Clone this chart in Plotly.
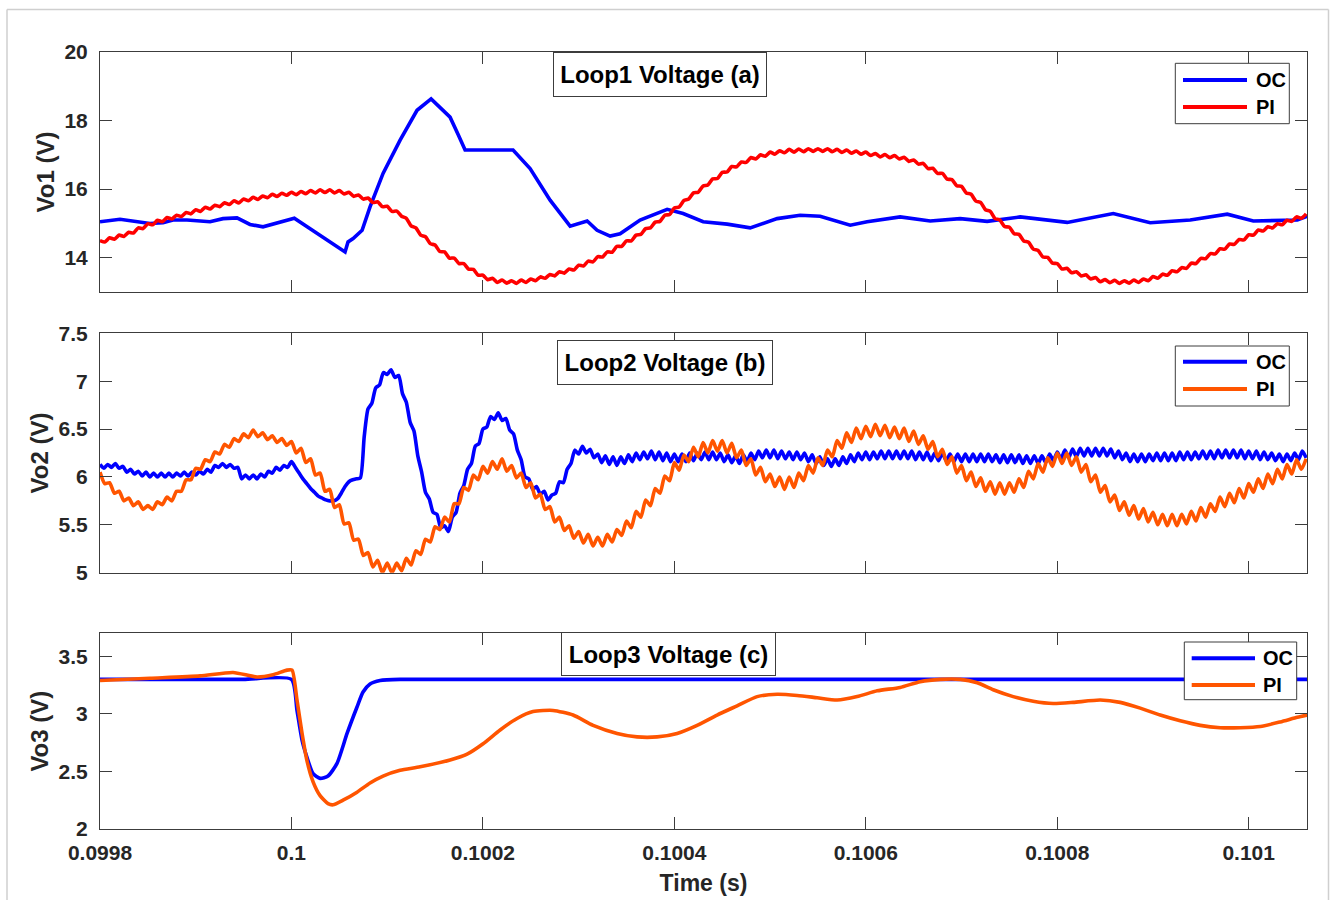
import numpy as np
import plotly.graph_objects as go

# ---------------------------------------------------------------- data
T_START = 0.0998
T_END = 0.1010609

SERIES_NAMES = ["OC", "PI"]
PANEL_TITLES = ["Loop1 Voltage (a)", "Loop2 Voltage (b)", "Loop3 Voltage (c)"]
Y_TITLES = ["Vo1 (V)", "Vo2 (V)", "Vo3 (V)"]
X_TITLE = "Time (s)"

X_TICKS = [0.0998, 0.1, 0.1002, 0.1004, 0.1006, 0.1008, 0.101]
X_TICK_TEXT = ["0.0998", "0.1", "0.1002", "0.1004", "0.1006", "0.1008", "0.101"]
Y1_TICKS = [14, 16, 18, 20]
Y2_TICKS = [5, 5.5, 6, 6.5, 7, 7.5]
Y3_TICKS = [2, 2.5, 3, 3.5]
Y_RANGES = [[13, 20], [5, 7.5], [2, 3.7]]

# Loop 1 output voltage
VO1_OC_T = [0.0998000, 0.0998209, 0.0998522, 0.0998658, 0.0998763, 0.0998909,
            0.0999149, 0.0999285, 0.0999431, 0.0999567, 0.0999703, 0.0999849,
            0.1000030, 0.1000560, 0.1000591, 0.1000644, 0.1000696, 0.1000738,
            0.1000821, 0.1000957, 0.1001135, 0.1001312, 0.1001459, 0.1001657,
            0.1001740, 0.1001814, 0.1002315, 0.1002493, 0.1002702, 0.1002807,
            0.1002911, 0.1003089, 0.1003193, 0.1003329, 0.1003433, 0.1003642,
            0.1003925, 0.1004092, 0.1004301, 0.1004552, 0.1004792, 0.1005074,
            0.1005314, 0.1005523, 0.1005837, 0.1006014, 0.1006359, 0.1006673,
            0.1006986, 0.1007268, 0.1007613, 0.1008104, 0.1008585, 0.1008971,
            0.1009389, 0.1009776, 0.1010048, 0.1010508, 0.1010612]
VO1_OC = [15.05, 15.12, 15.00, 15.02, 15.10, 15.10,
          15.05, 15.14, 15.16, 14.97, 14.90, 15.00,
          15.15, 14.17, 14.46, 14.56, 14.71, 14.80,
          15.48, 16.46, 17.43, 18.30, 18.63, 18.10,
          17.60, 17.14, 17.14, 16.60, 15.68, 15.29,
          14.92, 15.07, 14.80, 14.63, 14.70, 15.10,
          15.41, 15.29, 15.05, 14.98, 14.87, 15.14,
          15.24, 15.21, 14.95, 15.05, 15.19, 15.07,
          15.14, 15.06, 15.19, 15.03, 15.29, 15.02,
          15.10, 15.27, 15.07, 15.10, 15.21]

# Loop 1 PI response, uniform 5 us samples
VO1_PI_STEP = 5e-6
VO1_PI = [
    14.50, 14.46, 14.58, 14.54, 14.66, 14.62, 14.74, 14.72, 14.87, 14.85,
    14.99, 14.96, 15.09, 15.05, 15.17, 15.13, 15.24, 15.20, 15.32, 15.28,
    15.40, 15.35, 15.47, 15.42, 15.53, 15.49, 15.60, 15.55, 15.66, 15.60,
    15.71, 15.66, 15.76, 15.70, 15.80, 15.75, 15.85, 15.79, 15.88, 15.82,
    15.91, 15.84, 15.93, 15.87, 15.96, 15.89, 15.98, 15.90, 15.98, 15.89,
    15.96, 15.86, 15.91, 15.79, 15.83, 15.71, 15.74, 15.61, 15.63, 15.49,
    15.50, 15.35, 15.36, 15.21, 15.15, 14.93, 14.87, 14.66, 14.61, 14.41,
    14.37, 14.18, 14.17, 13.99, 13.99, 13.83, 13.83, 13.67, 13.66, 13.49,
    13.49, 13.36, 13.40, 13.28, 13.35, 13.26, 13.33, 13.25, 13.35, 13.28,
    13.38, 13.33, 13.44, 13.40, 13.51, 13.47, 13.59, 13.55, 13.67, 13.64,
    13.78, 13.76, 13.90, 13.88, 14.03, 14.02, 14.17, 14.16, 14.33, 14.33,
    14.49, 14.49, 14.66, 14.68, 14.85, 14.87, 15.04, 15.06, 15.24, 15.26,
    15.45, 15.48, 15.67, 15.71, 15.89, 15.91, 16.09, 16.12, 16.30, 16.31,
    16.49, 16.50, 16.66, 16.65, 16.79, 16.78, 16.92, 16.88, 17.00, 16.96,
    17.08, 17.02, 17.12, 17.06, 17.16, 17.08, 17.17, 17.09, 17.18, 17.10,
    17.18, 17.10, 17.18, 17.09, 17.16, 17.07, 17.14, 17.05, 17.11, 17.02,
    17.08, 16.98, 17.04, 16.94, 17.01, 16.92, 16.98, 16.88, 16.93, 16.81,
    16.85, 16.73, 16.75, 16.60, 16.61, 16.46, 16.46, 16.29, 16.28, 16.10,
    16.08, 15.89, 15.85, 15.65, 15.61, 15.40, 15.35, 15.14, 15.10, 14.91,
    14.89, 14.70, 14.68, 14.49, 14.45, 14.25, 14.21, 14.02, 14.01, 13.84,
    13.83, 13.67, 13.69, 13.56, 13.59, 13.47, 13.50, 13.38, 13.42, 13.30,
    13.36, 13.27, 13.34, 13.25, 13.33, 13.26, 13.35, 13.28, 13.38, 13.33,
    13.45, 13.40, 13.52, 13.49, 13.62, 13.59, 13.71, 13.69, 13.84, 13.83,
    13.98, 13.97, 14.12, 14.11, 14.26, 14.25, 14.40, 14.39, 14.53, 14.52,
    14.67, 14.66, 14.81, 14.78, 14.90, 14.87, 14.99, 14.96, 15.09, 15.06,
    15.19, 15.15, 15.28,
]

# Loop 2 output voltage, sampled on uniform time grids
VO2_OC_STEP = 4e-6
VO2_OC = [
    6.13, 6.09, 6.13, 6.10, 6.14, 6.09, 6.11, 6.05, 6.08, 6.03,
    6.06, 6.01, 6.05, 6.00, 6.04, 6.00, 6.04, 6.00, 6.04, 6.00,
    6.04, 6.01, 6.05, 6.01, 6.05, 6.02, 6.06, 6.03, 6.08, 6.05,
    6.12, 6.10, 6.14, 6.10, 6.13, 6.09, 6.10, 5.98, 6.02, 5.98,
    6.02, 5.98, 6.03, 6.00, 6.06, 6.04, 6.10, 6.07, 6.12, 6.10,
    6.16, 6.10, 6.04, 5.98, 5.93, 5.88, 5.84, 5.80, 5.78, 5.76,
    5.75, 5.75, 5.77, 5.83, 5.90, 5.95, 5.97, 5.98, 5.99,
    6.42, 6.71, 6.77, 6.93, 6.96, 7.09, 7.07, 7.12, 7.04, 7.06, 6.87,
    6.78, 6.57, 6.48, 6.22, 6.05, 5.84, 5.77, 5.63, 5.61, 5.47,
    5.49, 5.43, 5.58, 5.63, 5.83, 5.91, 6.08, 6.14, 6.32, 6.35,
    6.50, 6.52, 6.63, 6.60, 6.67, 6.59, 6.61, 6.49, 6.45, 6.28,
    6.18, 6.00, 5.98, 5.87, 5.90, 5.82, 5.85, 5.76, 5.81, 5.83,
    5.95, 5.94, 6.08, 6.14, 6.28, 6.24, 6.32, 6.25, 6.29, 6.20, 6.24,
    6.15, 6.22, 6.13, 6.21, 6.12, 6.21, 6.14, 6.23, 6.16, 6.25,
    6.18, 6.26, 6.19, 6.27, 6.18, 6.26, 6.17, 6.25, 6.16, 6.24,
    6.16, 6.24, 6.16, 6.25, 6.17, 6.25, 6.18, 6.26, 6.18, 6.26,
    6.18, 6.25, 6.16, 6.23, 6.15, 6.22, 6.14, 6.23, 6.16, 6.25,
    6.18, 6.27, 6.20, 6.28, 6.20, 6.28, 6.19, 6.27, 6.19, 6.26,
    6.18, 6.26, 6.18, 6.25, 6.16, 6.23, 6.14, 6.21, 6.12, 6.19,
    6.11, 6.19, 6.12, 6.21, 6.14, 6.23, 6.16, 6.25, 6.18, 6.26,
    6.18, 6.26, 6.19, 6.27, 6.19, 6.27, 6.19, 6.27, 6.19, 6.27,
    6.19, 6.27, 6.18, 6.26, 6.18, 6.26, 6.17, 6.25, 6.17, 6.25,
    6.17, 6.24, 6.16, 6.24, 6.16, 6.24, 6.16, 6.24, 6.16, 6.24,
    6.16, 6.24, 6.16, 6.23, 6.15, 6.23, 6.15, 6.23, 6.15, 6.23,
    6.14, 6.22, 6.14, 6.22, 6.14, 6.22, 6.15, 6.24, 6.17, 6.26,
    6.19, 6.28, 6.20, 6.29, 6.21, 6.30, 6.22, 6.30, 6.22, 6.30,
    6.22, 6.30, 6.22, 6.29, 6.20, 6.27, 6.18, 6.25, 6.16, 6.24,
    6.16, 6.24, 6.16, 6.24, 6.17, 6.25, 6.17, 6.25, 6.17, 6.25,
    6.17, 6.26, 6.18, 6.26, 6.18, 6.26, 6.19, 6.27, 6.19, 6.27,
    6.19, 6.28, 6.20, 6.28, 6.20, 6.28, 6.20, 6.28, 6.19, 6.27,
    6.19, 6.27, 6.18, 6.26, 6.18, 6.25, 6.17, 6.24, 6.16, 6.24,
    6.17, 6.25, 6.18, 6.27, 6.20,
]

VO2_PI_STEP = 5e-6
VO2_PI = [
    6.05, 5.93, 5.94, 5.83, 5.85, 5.75, 5.78, 5.70, 5.74, 5.66,
    5.70, 5.66, 5.74, 5.71, 5.79, 5.75, 5.85, 5.85, 5.97, 5.97,
    6.09, 6.08, 6.18, 6.16, 6.26, 6.24, 6.34, 6.31, 6.40, 6.37,
    6.45, 6.41, 6.49, 6.42, 6.46, 6.39, 6.43, 6.36, 6.40, 6.33,
    6.37, 6.25, 6.30, 6.15, 6.19, 6.02, 6.04, 5.85, 5.87, 5.68,
    5.71, 5.51, 5.52, 5.34, 5.35, 5.18, 5.21, 5.06, 5.13, 5.00,
    5.10, 5.00, 5.10, 5.02, 5.15, 5.08, 5.23, 5.19, 5.35, 5.32,
    5.48, 5.45, 5.58, 5.53, 5.72, 5.72, 5.89, 5.86, 6.02, 5.97,
    6.11, 6.04, 6.16, 6.08, 6.19, 6.06, 6.12, 5.99, 6.04, 5.89,
    5.94, 5.78, 5.82, 5.66, 5.69, 5.53, 5.58, 5.44, 5.49, 5.36,
    5.43, 5.31, 5.40, 5.28, 5.37, 5.28, 5.40, 5.32, 5.45, 5.39,
    5.54, 5.47, 5.64, 5.58, 5.76, 5.70, 5.88, 5.83, 6.01, 5.96,
    6.15, 6.07, 6.23, 6.16, 6.31, 6.21, 6.36, 6.25, 6.38, 6.27,
    6.38, 6.25, 6.35, 6.20, 6.28, 6.12, 6.19, 6.02, 6.10, 5.95,
    6.03, 5.90, 6.00, 5.87, 6.00, 5.89, 6.04, 5.96, 6.12, 6.04,
    6.20, 6.12, 6.28, 6.21, 6.38, 6.30, 6.46, 6.36, 6.51, 6.40,
    6.53, 6.42, 6.55, 6.43, 6.54, 6.41, 6.52, 6.40, 6.51, 6.37,
    6.48, 6.34, 6.43, 6.29, 6.37, 6.21, 6.29, 6.13, 6.21, 6.04,
    6.12, 5.96, 6.05, 5.90, 5.99, 5.85, 5.95, 5.82, 5.94, 5.82,
    5.94, 5.84, 5.98, 5.89, 6.06, 5.98, 6.14, 6.05, 6.20, 6.11,
    6.25, 6.14, 6.25, 6.12, 6.21, 6.05, 6.13, 5.95, 6.02, 5.84,
    5.91, 5.74, 5.81, 5.65, 5.74, 5.60, 5.70, 5.56, 5.67, 5.53,
    5.63, 5.50, 5.61, 5.49, 5.61, 5.49, 5.61, 5.51, 5.64, 5.54,
    5.68, 5.58, 5.72, 5.64, 5.79, 5.69, 5.83, 5.73, 5.88, 5.78,
    5.93, 5.84, 5.98, 5.88, 6.03, 5.93, 6.08, 5.98, 6.13, 6.03,
    6.18, 6.08, 6.19,
]

# Loop 3 output voltage
VO3_OC_T = [0.0998000, 0.0998500, 0.0999000, 0.0999500, 0.1000000, 0.1000058,
            0.1000111, 0.1000163, 0.1000226, 0.1000299, 0.1000382, 0.1000476,
            0.1000581, 0.1000685, 0.1000748, 0.1000821, 0.1000926, 0.1001135,
            0.1010610]
VO3_OC = [3.30, 3.30, 3.30, 3.30, 3.30, 3.03,
          2.77, 2.62, 2.48, 2.44, 2.46, 2.57,
          2.83, 3.06, 3.19, 3.26, 3.29, 3.30,
          3.30]

VO3_PI_T = [0.0998000, 0.0998522, 0.0999045, 0.0999390, 0.0999640, 0.0999808,
            0.0999954, 0.1000006, 0.1000058, 0.1000111, 0.1000163, 0.1000226,
            0.1000299, 0.1000382, 0.1000435, 0.1000539, 0.1000685, 0.1000821,
            0.1000957, 0.1001135, 0.1001344, 0.1001657, 0.1001835, 0.1002002,
            0.1002180, 0.1002357, 0.1002524, 0.1002733, 0.1002942, 0.1003151,
            0.1003402, 0.1003611, 0.1003820, 0.1004029, 0.1004238, 0.1004447,
            0.1004656, 0.1004865, 0.1005074, 0.1005283, 0.1005492, 0.1005701,
            0.1005910, 0.1006119, 0.1006359, 0.1006568, 0.1006777, 0.1006986,
            0.1007164, 0.1007331, 0.1007540, 0.1007749, 0.1007958, 0.1008167,
            0.1008449, 0.1008658, 0.1008867, 0.1009076, 0.1009285, 0.1009494,
            0.1009703, 0.1009912, 0.1010121, 0.1010330, 0.1010508, 0.1010612]
VO3_PI = [3.29, 3.31, 3.33, 3.36, 3.32, 3.34,
          3.38, 3.38, 3.12, 2.83, 2.59, 2.41,
          2.29, 2.22, 2.21, 2.25, 2.32, 2.40,
          2.46, 2.51, 2.54, 2.60, 2.65, 2.74,
          2.86, 2.96, 3.02, 3.03, 2.99, 2.90,
          2.83, 2.80, 2.80, 2.83, 2.90, 2.99,
          3.07, 3.15, 3.17, 3.16, 3.14, 3.12,
          3.15, 3.20, 3.23, 3.28, 3.30, 3.30,
          3.27, 3.21, 3.15, 3.11, 3.09, 3.10,
          3.12, 3.10, 3.05, 2.99, 2.94, 2.90,
          2.88, 2.88, 2.89, 2.93, 2.97, 2.99]

# ---------------------------------------------------------------- styling
W, H = 1331, 900
M_L, M_R, M_T, M_B = 100, 24, 52, 71
FONT = "Liberation Sans"
AX = "#262626"
FRAME = "#3c3c3c"
BLUE = "#0000FF"
RED = "#FF0000"
ORANGE = "#FF5500"
LW = 3.6


def px_x(x):
    return (x - M_L) / (W - M_L - M_R)


def px_y(y):
    return (H - M_B - y) / (H - M_T - M_B)


vo1_pi_t = T_START + np.arange(len(VO1_PI)) * VO1_PI_STEP
vo2_oc_t = T_START + np.arange(len(VO2_OC)) * VO2_OC_STEP
vo2_pi_t = T_START + np.arange(len(VO2_PI)) * VO2_PI_STEP

panels = [
    [(VO1_OC_T, VO1_OC, BLUE, "linear"), (vo1_pi_t, VO1_PI, RED, "spline")],
    [(vo2_oc_t, VO2_OC, BLUE, "spline"), (vo2_pi_t, VO2_PI, ORANGE, "spline")],
    [(VO3_OC_T, VO3_OC, BLUE, "spline"), (VO3_PI_T, VO3_PI, ORANGE, "spline")],
]
y_ticks = [Y1_TICKS, Y2_TICKS, Y3_TICKS]
# y-domains in pixel rows (top, bottom)
panel_rows = [(52, 292), (333.3, 572.7), (633.3, 829)]

fig = go.Figure()
for i, series in enumerate(panels):
    ax = "" if i == 0 else str(i + 1)
    for (t, v, color, shape), name in zip(series, SERIES_NAMES):
        fig.add_trace(go.Scatter(
            x=t, y=v, mode="lines", name=name, showlegend=False,
            line=dict(color=color, width=LW, shape=shape, smoothing=0.6),
            xaxis="x" + ax, yaxis="y" + ax, hoverinfo="skip",
        ))

tickfont = dict(family=FONT, size=21, color=AX, weight="bold")
xtitlefont = dict(family=FONT, size=23, color=AX, weight="bold")
ytitlefont = dict(family=FONT, size=24, color=AX, weight="bold")

layout = dict(
    width=W, height=H,
    margin=dict(l=M_L, r=M_R, t=M_T, b=M_B, pad=0, autoexpand=False),
    paper_bgcolor="white", plot_bgcolor="white",
    showlegend=False,
)
for i in range(3):
    ax = "" if i == 0 else str(i + 1)
    top, bot = panel_rows[i]
    layout["xaxis" + ax] = dict(
        domain=[0, 1], anchor="y" + ax, range=[T_START, T_END],
        tickvals=X_TICKS, ticktext=X_TICK_TEXT, showticklabels=(i == 2),
        ticks="inside", ticklen=12, tickwidth=1, tickcolor=FRAME,
        showline=True, linecolor=FRAME, linewidth=1, mirror="ticks",
        showgrid=False, zeroline=False, tickfont=tickfont, automargin=False,
        ticklabelstandoff=5,
        title=dict(text=X_TITLE if i == 2 else "", font=xtitlefont, standoff=11),
    )
    layout["yaxis" + ax] = dict(
        domain=[px_y(bot), px_y(top)], anchor="x" + ax, range=Y_RANGES[i],
        tickvals=y_ticks[i], ticktext=[f"{v:g}" for v in y_ticks[i]],
        ticks="inside", ticklen=12, tickwidth=1, tickcolor=FRAME,
        showline=True, linecolor=FRAME, linewidth=1, mirror="ticks",
        showgrid=False, zeroline=False, tickfont=tickfont, automargin=False,
        ticklabelstandoff=7,
        title=dict(text=Y_TITLES[i], font=ytitlefont, standoff=3),
    )
fig.update_layout(**layout)

annotations = []
shapes = []

# panel title boxes: (centre x, top y, width, height) in pixels
title_boxes = [(659.5, 52, 214, 45), (664.7, 340, 216, 45), (668.3, 632.3, 215, 44)]
for text, (cx, ty, bw, bh) in zip(PANEL_TITLES, title_boxes):
    annotations.append(dict(
        text=text, xref="paper", yref="paper", x=px_x(cx), y=px_y(ty),
        xanchor="center", yanchor="top", showarrow=False,
        font=dict(family=FONT, size=24, color="#000000", weight="bold"),
        bgcolor="white", bordercolor=FRAME, borderwidth=1, borderpad=2,
        width=bw - 6, height=bh - 6,
    ))

# legends: box (x0, y0, x1, y1), line x-span, entry rows, text x
legend_boxes = [
    ((1175.3, 63.3, 1289.3, 123.7), (1183, 1247), (80, 107), 1254),
    ((1175.3, 346, 1289.3, 406), (1183, 1247), (361.7, 389), 1254),
    ((1184.3, 642, 1296.7, 699.7), (1191.7, 1255), (658.3, 685), 1261),
]
for series, (box, (lx0, lx1), rows, tx) in zip(panels, legend_boxes):
    x0, y0, x1, y1 = box
    shapes.append(dict(type="rect", xref="paper", yref="paper", layer="above",
                       x0=px_x(x0), x1=px_x(x1), y0=px_y(y1), y1=px_y(y0),
                       fillcolor="white", line=dict(color=FRAME, width=1)))
    for (t, v, color, shape), name, ry in zip(series, SERIES_NAMES, rows):
        shapes.append(dict(type="line", xref="paper", yref="paper", layer="above",
                           x0=px_x(lx0), x1=px_x(lx1), y0=px_y(ry), y1=px_y(ry),
                           line=dict(color=color, width=4)))
        annotations.append(dict(
            text=name, xref="paper", yref="paper", x=px_x(tx), y=px_y(ry),
            xanchor="left", yanchor="middle", showarrow=False,
            font=dict(family=FONT, size=20, color="#000000", weight="bold"),
        ))

# thin grey frame round the figure
BORDER = "#cfcfcf"
for (xa, ya, xb, yb) in [(7, 9.5, 1328.5, 9.5), (7, 9.5, 7, 900), (1328.5, 9.5, 1328.5, 900)]:
    shapes.append(dict(type="line", xref="paper", yref="paper", layer="above",
                       x0=px_x(xa), x1=px_x(xb), y0=px_y(ya), y1=px_y(yb),
                       line=dict(color=BORDER, width=1.5)))

fig.update_layout(annotations=annotations, shapes=shapes)
fig.write_html("out.html", config={"displayModeBar": False})
